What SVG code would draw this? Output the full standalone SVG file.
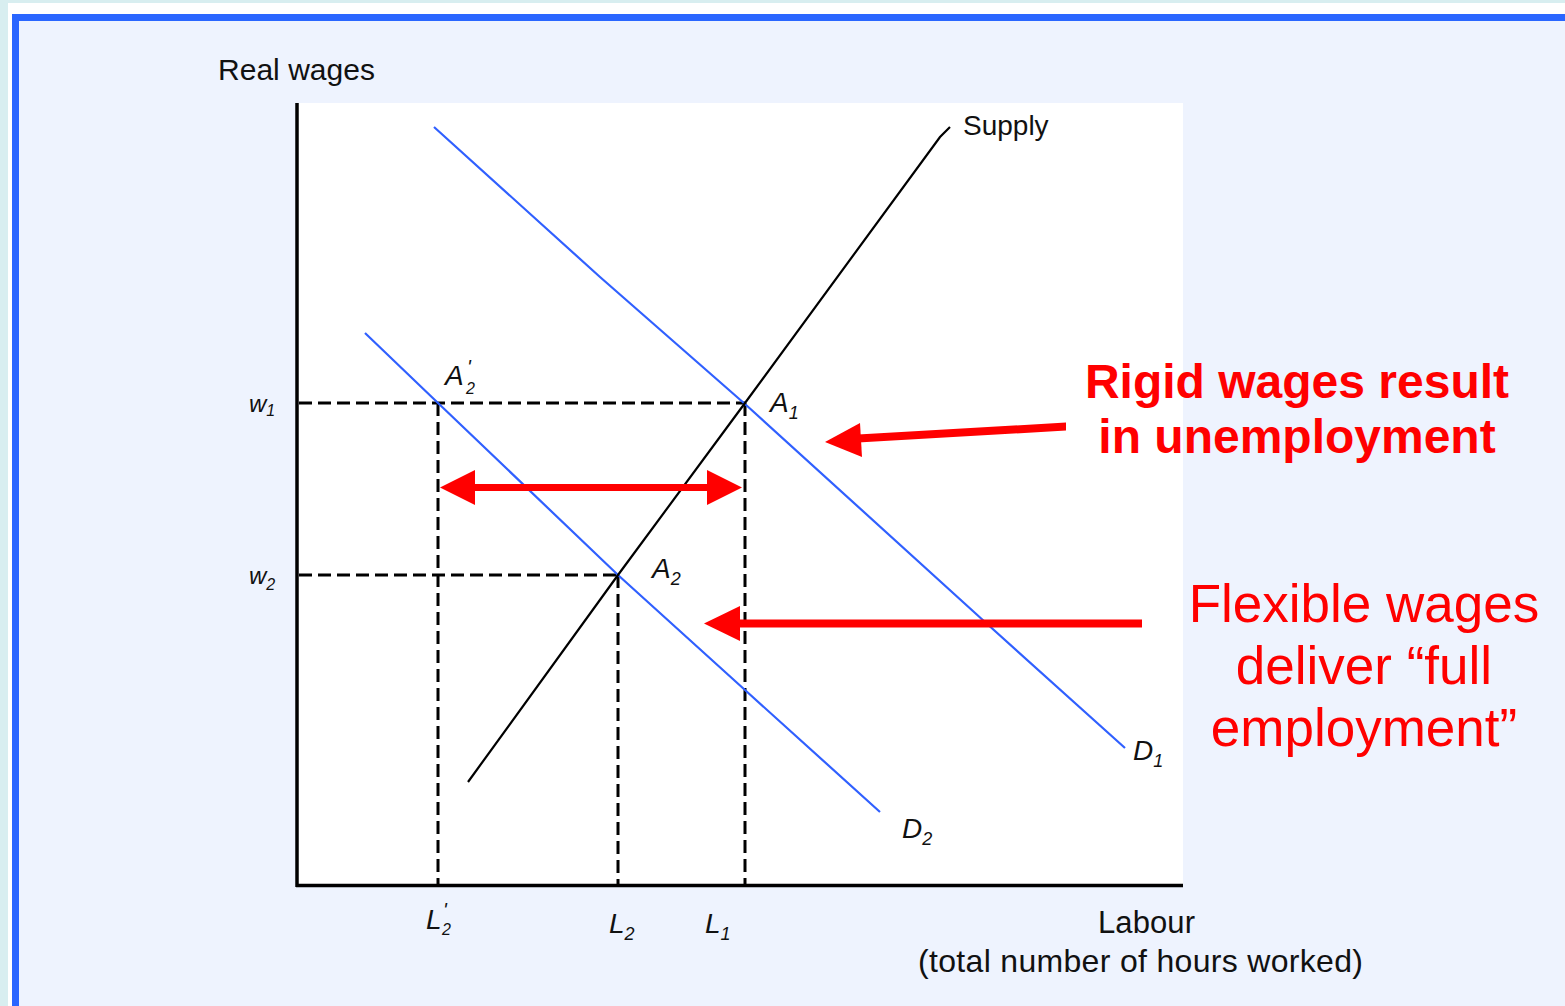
<svg xmlns="http://www.w3.org/2000/svg" width="1565" height="1006" viewBox="0 0 1565 1006">
<style>
.lab{font-family:"Liberation Sans",Arial,sans-serif;fill:#111;}
.it{font-family:"Liberation Sans",Arial,sans-serif;font-style:italic;fill:#111;}
.dash{stroke:#000;stroke-width:3;stroke-dasharray:13 6;fill:none;}
.dem{stroke:#3060ff;stroke-width:2.2;fill:none;}
.sup{stroke:#000;stroke-width:2.2;fill:none;}
.red{fill:#ff0000;}
.rt{font-family:"Liberation Sans",Arial,sans-serif;fill:#ff0000;text-anchor:middle;}
</style>
<rect x="0" y="0" width="1565" height="1006" fill="#d8eef0"/>
<rect x="8" y="3" width="1557" height="1003" fill="#ffffff"/>
<rect x="12" y="14" width="1553" height="992" fill="#2a66ff"/>
<rect x="19" y="21" width="1546" height="985" fill="#eef3fe"/>
<rect x="297" y="103" width="886" height="782" fill="#ffffff"/>

<g id="axes">
<line x1="297" y1="103" x2="297" y2="887" stroke="#000" stroke-width="3.5"/>
<line x1="296" y1="885.5" x2="1183" y2="885.5" stroke="#000" stroke-width="3.5"/>
</g>

<g id="connectors">
<line class="dash" x1="299" y1="403" x2="745" y2="403"/>
<line class="dash" x1="299" y1="575" x2="618" y2="575"/>
<line class="dash" x1="438" y1="403" x2="438" y2="884"/>
<line class="dash" x1="618" y1="575" x2="618" y2="884"/>
<line class="dash" x1="745" y1="403" x2="745" y2="884"/>
</g>

<g id="curve-D1"><polyline class="dem" points="434,127 600,277 745,404 985,622 1125,748"/></g>
<g id="curve-D2"><polyline class="dem" points="365,333 438,403 618,575 745,690 880,812"/></g>
<g id="curve-supply"><polyline class="sup" points="468,782 618,575 745,403 940,137 950,127"/></g>

<g id="labels">
<text class="lab" x="218" y="80" font-size="30" textLength="157">Real wages</text>
<text class="lab" x="963" y="135" font-size="28">Supply</text>
<text class="lab" x="1098" y="933" font-size="31" textLength="97">Labour</text>
<text class="lab" x="918" y="972" font-size="32" textLength="445">(total number of hours worked)</text>
<text class="it" x="249" y="412" font-size="24">w<tspan font-size="16" dy="4">1</tspan></text>
<text class="it" x="249" y="584" font-size="24">w<tspan font-size="16" dy="6">2</tspan></text>
<text class="it" x="770" y="412" font-size="28">A<tspan font-size="18" dy="7">1</tspan></text>
<text class="it" x="652" y="578" font-size="28">A<tspan font-size="18" dy="7">2</tspan></text>
<text class="it" x="445" y="385" font-size="28">A</text>
<text class="it" x="467" y="374" font-size="20">'</text>
<text class="it" x="466" y="394" font-size="16">2</text>
<text class="it" x="426" y="929" font-size="28">L</text>
<text class="it" x="443" y="917" font-size="20">'</text>
<text class="it" x="442" y="935" font-size="16">2</text>
<text class="it" x="609" y="933" font-size="28">L<tspan font-size="18" dy="7">2</tspan></text>
<text class="it" x="705" y="933" font-size="28">L<tspan font-size="18" dy="7">1</tspan></text>
<text class="it" x="1133" y="760" font-size="28">D<tspan font-size="18" dy="7">1</tspan></text>
<text class="it" x="902" y="838" font-size="28">D<tspan font-size="18" dy="7">2</tspan></text>
</g>

<g id="arrow-unemployment-range">
<rect class="red" x="470" y="484" width="242" height="7"/>
<polygon class="red" points="742,487.5 707,470 707,505"/>
<polygon class="red" points="440,487.5 475,470 475,505"/>
</g>
<g id="arrow-rigid">
<polygon class="red" points="1066,422.5 1066,430.5 858,442.5 858,434.5"/>
<polygon class="red" points="825,442 860,423 862,457"/>
</g>
<g id="arrow-flexible">
<rect class="red" x="735" y="619.5" width="407" height="8"/>
<polygon class="red" points="704,623.5 740,606 740,641"/>
</g>

<g id="text-rigid">
<text class="rt" x="1297" y="398" font-size="48" font-weight="bold">Rigid wages result</text>
<text class="rt" x="1297" y="453" font-size="48" font-weight="bold">in unemployment</text>
</g>
<g id="text-flexible">
<text class="rt" x="1364" y="622" font-size="53">Flexible wages</text>
<text class="rt" x="1364" y="684" font-size="53">deliver “full</text>
<text class="rt" x="1364" y="746" font-size="53">employment”</text>
</g>
</svg>
